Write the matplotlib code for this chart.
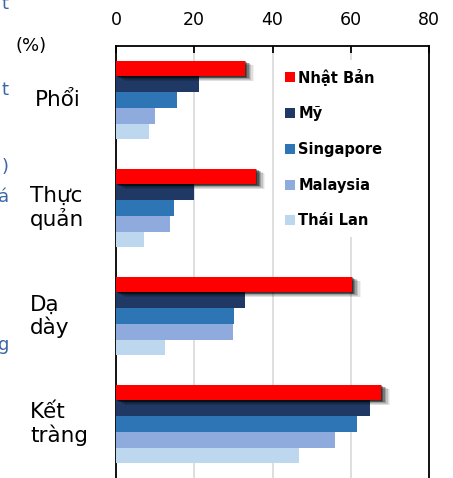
import numpy as np
import matplotlib.pyplot as plt
import matplotlib.patheffects as pe
from matplotlib.patches import Patch

plt.rcParams['font.family'] = ['DejaVu Sans']

# incidence by cancer site (%)
sites = ['Phổi', 'Thực\nquản', 'Dạ\ndày', 'Kết\ntràng']
countries = ['Nhật Bản', 'Mỹ', 'Singapore', 'Malaysia', 'Thái Lan']
japan = [33.0, 35.9, 60.3, 67.8]
usa = [21.1, 19.9, 33.0, 64.8]
singapore = [15.5, 14.7, 30.2, 61.6]
malaysia = [10.0, 13.7, 29.9, 55.9]
thailand = [8.5, 7.1, 12.4, 46.9]
x_ticks = [0, 20, 40, 60, 80]

series = [japan, usa, singapore, malaysia, thailand]
colors = ['#ff0000', '#203864', '#2e75b6', '#8faadc', '#bdd7ee']

fig = plt.figure(figsize=(4.53, 4.78), dpi=100)
ax = fig.add_axes([116 / 453, 0.0, 313 / 453, 1 - 46 / 478])

bar_h = 0.146
y = np.arange(len(sites))

# soft drop shadow for the red series (stacked offsets fake a blur)
shadow = [pe.SimplePatchShadow(offset=(dx, -dy), shadow_rgbFace='black', alpha=a)
          for dx, dy, a in [(0.5, 0.5, 0.35), (1.5, 1, 0.3), (2.5, 1.5, 0.25),
                            (3.5, 2, 0.18), (4.5, 2.5, 0.12), (5.5, 3, 0.08),
                            (6.5, 3.3, 0.05)]]

for i, (vals, col) in enumerate(zip(series, colors)):
    pos = y - 0.5 + (1 - 5 * bar_h) / 2 + bar_h * (i + 0.5)
    bars = ax.barh(pos, vals, height=bar_h, color=col, zorder=3 if i else 4)
    if i == 0:
        for b in bars:
            b.set_path_effects(shadow + [pe.Normal()])

ax.set_xlim(0, 80)
ax.set_ylim(3.5, -0.5)
ax.set_yticks([])
ax.xaxis.tick_top()
ax.set_xticks(x_ticks)
ax.tick_params(axis='x', direction='in', length=5, width=1.3, labelsize=12.5, pad=12, colors='black')
ax.grid(axis='x', color='#d9d9d9', lw=1.2, zorder=0)
for s in ['left', 'right', 'top']:
    ax.spines[s].set_linewidth(1.3)
ax.spines['bottom'].set_visible(False)

# category labels on the left
for yi, name in zip(y, sites):
    lx = 35 if name == 'Phổi' else 30
    ax.text((lx - 116) / 313 * 80, yi, name, fontsize=15.5, ha='left', va='center',
            linespacing=1.1, clip_on=False)

fig.text(31 / 453, 1 - 46 / 478, '(%)', fontsize=13, ha='center', va='center')

# fragments of neighbouring text at the left edge
for ty, ch in [(4, 't'), (90, 't'), (167, ')'), (197, 'á'), (345, 'g')]:
    fig.text(9 / 453, 1 - ty / 478, ch, fontsize=13, color='#3a66a7', ha='right', va='center')

handles = [Patch(facecolor=c, edgecolor='none') for c in colors]
leg = ax.legend(handles, countries, loc='upper left', bbox_to_anchor=(0.49, 0.985),
                frameon=True, facecolor='white', edgecolor='none', framealpha=1,
                prop={'weight': 'bold', 'size': 10.5}, handlelength=0.68, handleheight=0.68,
                handletextpad=0.2, labelspacing=1.42, borderpad=0.6, fancybox=False)
leg.set_zorder(5)

fig.savefig('out.png', dpi=100)
